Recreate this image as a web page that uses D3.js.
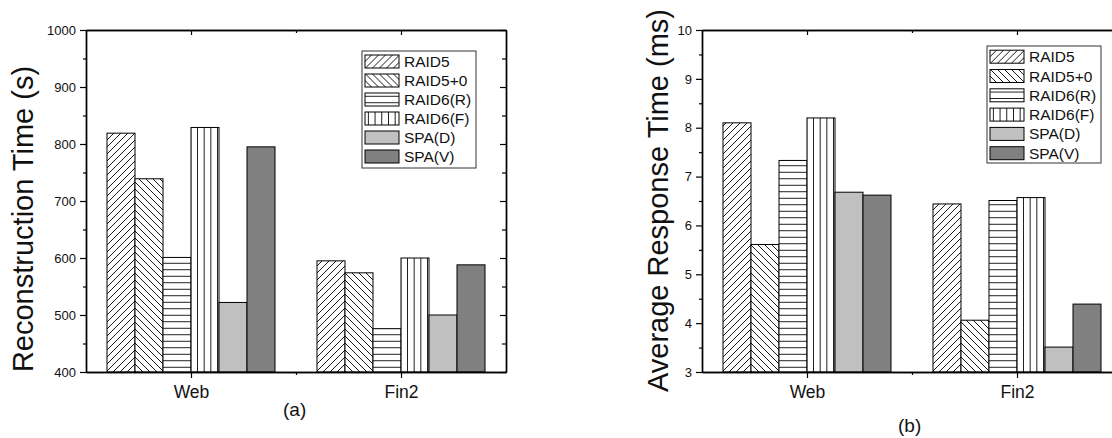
<!DOCTYPE html>
<html>
<head>
<meta charset="utf-8">
<script src="https://cdn.jsdelivr.net/npm/d3@7"></script>
<style>
  body { margin: 0; background: #fff; }
  svg { display: block; font-family: "Liberation Sans", Arial, sans-serif; }
</style>
</head>
<body>
<div id="chart"></div>
<script>
let width = 1112;
let height = 438;

let categories = ["Web", "Fin2"];
let series = ["RAID5", "RAID5+0", "RAID6(R)", "RAID6(F)", "SPA(D)", "SPA(V)"];

// (a) reconstruction time, seconds
let reconWeb = [819, 739, 601, 829, 522, 795];
let reconFin2 = [595, 574, 476, 600, 500, 588];
let reconTicks = [400, 500, 600, 700, 800, 900, 1000];

// (b) average response time, ms
let respWeb = [8.10, 5.61, 7.33, 8.20, 6.68, 6.62];
let respFin2 = [6.44, 4.06, 6.51, 6.57, 3.51, 4.39];
let respTicks = [3, 4, 5, 6, 7, 8, 9, 10];

let fills = ["url(#hatchFwd)", "url(#hatchBack)", "url(#hatchHoriz)", "url(#hatchVert)", "#c0c0c0", "#808080"];

let svg = d3.select("#chart")
  .append("svg")
  .attr("width", width)
  .attr("height", height);

svg.append("rect")
  .attr("width", width)
  .attr("height", height)
  .attr("fill", "white");

// hatch patterns
let defs = svg.append("defs");

function addPattern(id, w, h, d) {
  let p = defs.append("pattern")
    .attr("id", id)
    .attr("patternUnits", "userSpaceOnUse")
    .attr("width", w)
    .attr("height", h);
  p.append("rect").attr("width", w).attr("height", h).attr("fill", "white");
  p.append("path").attr("d", d).attr("stroke", "#000").attr("stroke-width", 0.9).attr("fill", "none");
}

let s = 7;
addPattern("hatchFwd", s, s, `M0,${s} L${s},0 M-1,1 L1,-1 M${s-1},${s+1} L${s+1},${s-1}`);
addPattern("hatchBack", s, s, `M0,0 L${s},${s} M-1,${s-1} L1,${s+1} M${s-1},-1 L${s+1},1`);
addPattern("hatchHoriz", 10, 6.5, "M0,3.25 L10,3.25");
addPattern("hatchVert", 6.7, 10, "M3.35,0 L3.35,10");

function drawChart(cfg) {
  let g = svg.append("g");
  let x0 = cfg.left, x1 = cfg.left + 420;
  let yTop = 30, yBottom = 372;

  let xScale = d3.scaleBand()
    .domain(categories)
    .range([x0, x1]);

  let yScale = d3.scaleLinear()
    .domain(cfg.domain)
    .range([yBottom, yTop]);

  let inner = d3.scaleBand()
    .domain(series)
    .range([0, 168]);

  let rows = categories.map((c, i) => ({ cat: c, values: cfg.values[i] }));

  // bars
  let groups = g.selectAll(".grp")
    .data(rows)
    .enter()
    .append("g")
    .attr("transform", d => `translate(${xScale(d.cat) + xScale.bandwidth() / 2 - 84},0)`);

  groups.selectAll("rect")
    .data(d => d.values.map((v, i) => ({ name: series[i], value: v, idx: i })))
    .enter()
    .append("rect")
    .attr("x", d => inner(d.name))
    .attr("y", d => yScale(d.value))
    .attr("width", inner.bandwidth())
    .attr("height", d => yBottom - yScale(d.value))
    .attr("fill", d => fills[d.idx])
    .attr("stroke", "#000")
    .attr("stroke-width", 1);

  // axes
  let majors = cfg.ticks;
  let minors = d3.range(majors.length - 1).map(i => (majors[i] + majors[i + 1]) / 2);
  let centers = categories.map(c => xScale(c) + xScale.bandwidth() / 2);
  let bounds = [x0 + 210];

  let leftAx = g.append("g").attr("transform", `translate(${x0},0)`)
    .call(d3.axisLeft(yScale).tickValues(majors).tickSize(6).tickSizeOuter(0).tickPadding(4).tickFormat(d3.format("d")));
  leftAx.selectAll("text").attr("font-size", 13).attr("fill", "#111").attr("font-family", "Liberation Sans, Arial");
  g.append("g").attr("transform", `translate(${x0},0)`)
    .call(d3.axisLeft(yScale).tickValues(minors).tickSize(3).tickSizeOuter(0).tickFormat(""));

  g.append("g").attr("transform", `translate(${x1},0)`)
    .call(d3.axisRight(yScale).tickValues(majors).tickSize(-6).tickSizeOuter(0).tickFormat(""));
  g.append("g").attr("transform", `translate(${x1},0)`)
    .call(d3.axisRight(yScale).tickValues(minors).tickSize(-4).tickSizeOuter(0).tickFormat(""));

  let xLin = d3.scaleLinear().domain([x0, x1]).range([x0, x1]);
  let bottomAx = g.append("g").attr("transform", `translate(0,${yBottom})`)
    .call(d3.axisBottom(xLin).tickValues(centers).tickSize(6).tickSizeOuter(0)
      .tickFormat((d, i) => categories[i]));
  bottomAx.selectAll("text")
    .attr("y", 26).attr("dy", 0)
    .attr("font-size", 17.5).attr("fill", "#111").attr("font-family", "Liberation Sans, Arial");
  g.append("g").attr("transform", `translate(0,${yBottom})`)
    .call(d3.axisBottom(xLin).tickValues(bounds).tickSize(3).tickSizeOuter(0).tickFormat(""));

  g.append("g").attr("transform", `translate(0,${yTop})`)
    .call(d3.axisTop(xLin).tickValues(centers).tickSize(-5).tickSizeOuter(0).tickFormat(""));
  g.append("g").attr("transform", `translate(0,${yTop})`)
    .call(d3.axisTop(xLin).tickValues(bounds).tickSize(-3).tickSizeOuter(0).tickFormat(""));

  g.selectAll(".domain").attr("stroke", "#000").attr("stroke-width", 1.4);
  g.selectAll(".tick line").attr("stroke", "#000").attr("stroke-width", 1.2);

  // y title
  g.append("text")
    .attr("transform", `translate(${cfg.titleX},${cfg.titleY}) rotate(-90)`)
    .attr("text-anchor", "middle")
    .attr("font-size", 29)
    .attr("fill", "#111")
    .text(cfg.title);

  // panel label
  g.append("text")
    .attr("x", cfg.labelX)
    .attr("y", cfg.labelY)
    .attr("font-size", 19)
    .attr("fill", "#111")
    .text(cfg.label);

  // legend
  let lg = g.append("g").attr("transform", `translate(${cfg.legX},${cfg.legY})`);
  lg.append("rect")
    .attr("width", 114)
    .attr("height", 117)
    .attr("fill", "white")
    .attr("stroke", "#333")
    .attr("stroke-width", 1);

  let items = lg.selectAll(".item")
    .data(series)
    .enter()
    .append("g")
    .attr("transform", (d, i) => `translate(3,${cfg.legFirst + i * cfg.legStep})`);

  items.append("rect")
    .attr("x", 0)
    .attr("y", -6.5)
    .attr("width", 34)
    .attr("height", 13)
    .attr("fill", (d, i) => fills[i])
    .attr("stroke", "#000")
    .attr("stroke-width", 1);

  items.append("text")
    .attr("x", 39)
    .attr("y", 5.5)
    .attr("font-size", 15.5)
    .attr("fill", "#111")
    .text(d => d);
}

drawChart({
  left: 86,
  domain: [400, 1000],
  ticks: reconTicks,
  values: [reconWeb, reconFin2],
  title: "Reconstruction Time (s)",
  titleX: 33, titleY: 219,
  label: "(a)", labelX: 283, labelY: 416,
  legX: 362, legY: 51, legFirst: 10.5, legStep: 19
});

drawChart({
  left: 702,
  domain: [3, 10],
  ticks: respTicks,
  values: [respWeb, respFin2],
  title: "Average Response Time (ms)",
  titleX: 668, titleY: 200.5,
  label: "(b)", labelX: 898, labelY: 432,
  legX: 987, legY: 46, legFirst: 10.7, legStep: 19.3
});
</script>
</body>
</html>
